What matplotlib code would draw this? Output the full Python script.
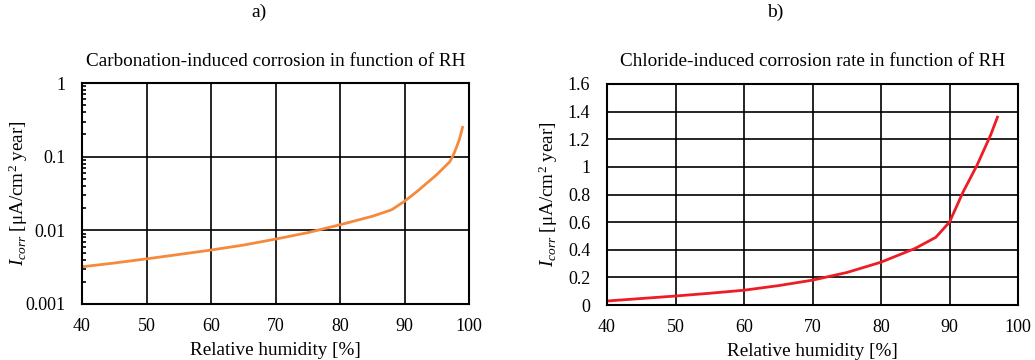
import numpy as np
import matplotlib.pyplot as plt
from matplotlib.ticker import LogLocator, NullFormatter, FixedLocator

plt.rcParams['font.family'] = ['Liberation Serif', 'DejaVu Serif']
plt.rcParams['mathtext.fontset'] = 'custom'
plt.rcParams['mathtext.rm'] = 'Liberation Serif'
plt.rcParams['mathtext.it'] = 'Liberation Serif:italic'

# a) carbonation-induced corrosion (log scale)
rh_carb = [40, 45, 50, 55, 60, 65, 70, 75, 80, 85, 88, 90, 92, 95, 97, 97.5, 98, 98.5, 99]
i_carb = [0.0032, 0.0036, 0.0041, 0.0047, 0.0054, 0.0063, 0.0076, 0.0093, 0.0119, 0.0155,
          0.019, 0.0248, 0.034, 0.057, 0.085, 0.102, 0.13, 0.17, 0.25]

# b) chloride-induced corrosion rate
rh_chl = [40, 45, 50, 55, 60, 65, 70, 75, 80, 85, 88, 90, 92, 94, 96, 97]
i_chl = [0.029, 0.047, 0.065, 0.085, 0.107, 0.14, 0.18, 0.235, 0.31, 0.41, 0.49, 0.6,
         0.82, 1.01, 1.23, 1.36]

xticks = [40, 50, 60, 70, 80, 90, 100]
ylabel = r'$I_{corr}$ [μA/cm$^2$ year]'

fig = plt.figure(figsize=(10.35, 3.6), dpi=100)
ax1 = fig.add_axes([82 / 1035, 1 - 304 / 360, 387 / 1035, 221 / 360])
ax2 = fig.add_axes([607 / 1035, 1 - 305 / 360, 411 / 1035, 221 / 360])

ax1.plot(rh_carb, i_carb, color='#F58A3C', lw=2)
ax1.set_yscale('log')
ax1.set_ylim(0.001, 1)
ax1.set_yticks([0.001, 0.01, 0.1, 1])
ax1.set_yticklabels(['0.001', '0.01', '0.1', '1'])
ax1.yaxis.set_minor_locator(LogLocator(base=10, subs=np.arange(2, 10)))
ax1.yaxis.set_minor_formatter(NullFormatter())
ax1.tick_params(axis='y', which='minor', direction='in', length=3, width=1.2, color='black')
ax1.set_title('Carbonation-induced corrosion in function of RH', fontsize=13.8, pad=12)
ax1.yaxis.set_label_coords(-0.134, 0.425)

ax2.plot(rh_chl, i_chl, color='#EE1C25', lw=2)
ax2.set_ylim(0, 1.6)
ax2.yaxis.set_major_locator(FixedLocator([0, 0.2, 0.4, 0.6, 0.8, 1.0, 1.2, 1.4, 1.6]))
ax2.set_yticklabels(['0', '0.2', '0.4', '0.6', '0.8', '1', '1.2', '1.4', '1.6'])
ax2.set_title('Chloride-induced corrosion rate in function of RH', fontsize=13.8, pad=13)
ax2.yaxis.set_label_coords(-0.114, 0.45)

for ax in (ax1, ax2):
    ax.set_xlim(40, 100)
    ax.set_xticks(xticks)
    ax.grid(True, which='major', color='black', lw=1.2)
    ax.set_axisbelow(True)
    ax.tick_params(axis='x', which='major', length=0, labelsize=13, pad=10)
    ax.tick_params(axis='y', which='major', length=0, labelsize=13, pad=12)
    for s in ax.spines.values():
        s.set_linewidth(1.5)
        s.set_color('black')
    ax.set_xlabel('Relative humidity [%]', fontsize=13.8, labelpad=5)
    ax.set_ylabel(ylabel, fontsize=13.8)

fig.text(259 / 1035, 1 - 12 / 360, 'a)', ha='center', va='center', fontsize=14)
fig.text(775 / 1035, 1 - 12 / 360, 'b)', ha='center', va='center', fontsize=14)

fig.savefig('out.png', dpi=100)
